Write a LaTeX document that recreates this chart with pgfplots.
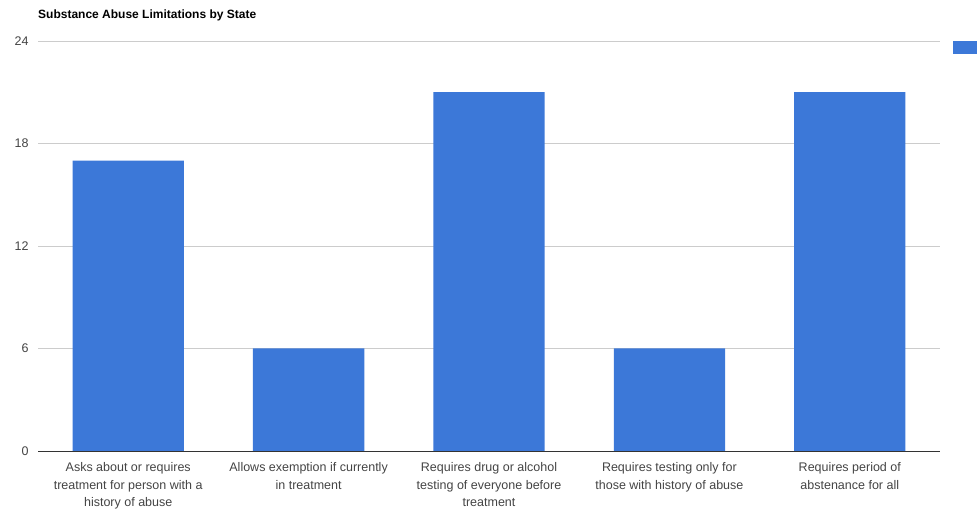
\documentclass[border=0pt]{standalone}
\usepackage{pgfplots}
\pgfplotsset{compat=1.18}
\usepackage{fontspec}
\setmainfont{Liberation Sans}
\definecolor{barblue}{HTML}{3C78D8}
\definecolor{gridgray}{HTML}{CCCCCC}
\definecolor{txtgray}{HTML}{444444}
\begin{document}
\begin{tikzpicture}
\begin{axis}[
  scale only axis,
  width=902bp, height=410bp,
  xmin=-0.5, xmax=4.5,
  ymin=0, ymax=24,
  ytick={0,6,12,18,24},
  ymajorgrids,
  grid style={gridgray, line width=0.8bp},
  axis line style={draw=none},
  major tick length=0pt,
  xtick=data,
  xticklabels={{Asks about or requires\\treatment for person with a\\history of abuse},
               {Allows exemption if currently\\in treatment},
               {Requires drug or alcohol\\testing of everyone before\\treatment},
               {Requires testing only for\\those with history of abuse},
               {Requires period of\\abstenance for all}},
  xticklabel style={align=center, font=\fontsize{12.5bp}{17.5bp}\selectfont, text=txtgray, yshift=-8bp},
  yticklabel style={font=\fontsize{12.5bp}{15bp}\selectfont, text=txtgray, xshift=-6bp},
  /pgf/number format/assume math mode=true,
  legend style={at={(1.0144,1.0)}, anchor=north west, draw=none, fill=none, inner sep=0pt, outer sep=0pt, font=\fontsize{12bp}{14bp}\selectfont},
  legend image code/.code={\fill[barblue] (0bp,-6.5bp) rectangle (30bp,6.5bp);},
  clip=false,
]
\addplot[ybar, bar width=0.617, fill=barblue, draw=none] coordinates {(0,17) (1,6) (2,21) (3,6) (4,21)};
\addlegendentry{}
\draw[black!80, line width=1bp] (axis cs:-0.5,0) -- (axis cs:4.5,0);
\end{axis}
\node[anchor=base west, inner sep=0pt, font=\bfseries\fontsize{12bp}{14bp}\selectfont] at (0bp,432bp) {Substance Abuse Limitations by State};
\pgfresetboundingbox
\useasboundingbox (-38bp,-63bp) rectangle (939bp,451bp);
\end{tikzpicture}
\end{document}
